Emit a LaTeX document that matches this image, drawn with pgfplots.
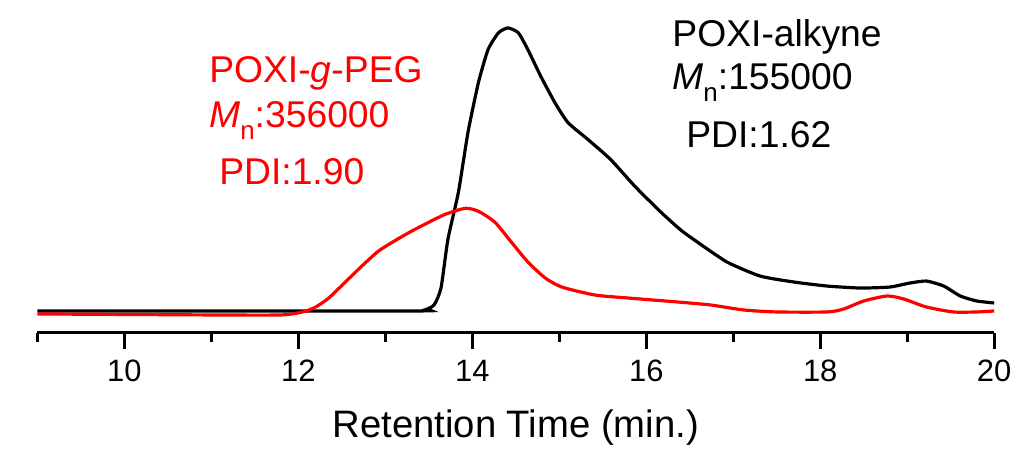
\documentclass[border=0pt]{standalone}
\usepackage{fontspec}
\setmainfont{Liberation Sans}
\usepackage{pgfplots}
\pgfplotsset{compat=1.18}

% chromatogram traces, y in picture units above the x axis
\pgfplotstableread{
x y
9.00 22
13.30 22
13.45 23
13.56 28
13.64 45
13.72 94
13.84 141
13.95 201
14.07 251
14.18 284
14.30 301
14.41 306
14.53 301
14.64 284
14.79 257
14.95 231
15.10 211
15.33 194
15.59 174
15.87 147
16.17 121
16.40 103
16.59 91
16.93 71
17.31 57
17.70 51
18.08 47
18.46 45
18.80 46
19.03 50
19.22 52
19.42 47
19.61 37
19.80 32
20.00 30
}\alkyne

\pgfplotstableread{
x y
9.00 19
11.00 18
11.80 18
12.05 21
12.20 26
12.35 35
12.54 51
12.73 67
12.92 82
13.12 93
13.30 102
13.50 111
13.69 119
13.92 125
14.07 122
14.26 111
14.45 91
14.64 71
14.84 55
15.03 46
15.41 38
15.79 35
16.36 31
16.74 28
17.12 23
17.50 21
18.08 21
18.27 24
18.50 32
18.77 37
18.96 34
19.22 26
19.53 21
19.80 21
20.00 22
}\peg

\newcommand{\Mn}{\textit{M}\raisebox{-0.32em}{\fontsize{13}{14}\selectfont n}}

\begin{document}
\begin{tikzpicture}
\begin{axis}[
  scale only axis,
  width=480pt, height=167pt,
  xmin=9, xmax=20, ymin=0, ymax=334,
  clip=false,
  axis x line*=bottom,
  hide y axis,
  x axis line style={line width=1.5pt},
  xtick={10,12,...,20},
  minor xtick={9,11,...,19},
  xtick align=outside,
  major tick length=8pt,
  minor tick length=4.5pt,
  every tick/.style={line width=1.5pt, black},
  /pgf/number format/assume math mode=true,
  xticklabel style={font=\fontsize{15.5}{18}\selectfont, yshift=-2pt},
  xlabel={Retention Time (min.)},
  xlabel style={font=\fontsize{19.2}{22}\selectfont, yshift=-7pt},
]
\path (axis cs:8.57,-116) rectangle (axis cs:20.23,334);
\addplot[black, line width=1.6pt, smooth, tension=0.35] table {\alkyne};
\addplot[red, line width=1.6pt, smooth, tension=0.4] table {\peg};

\node[anchor=base west, red, font=\fontsize{18.7}{22}\selectfont] at (axis cs:10.895,251) {POXI-\textit{g}-PEG};
\node[anchor=base west, red, font=\fontsize{18.7}{22}\selectfont] at (axis cs:10.895,206) {\Mn:356000};
\node[anchor=base west, red, font=\fontsize{18.7}{22}\selectfont] at (axis cs:11.01,149) {PDI:1.90};

\node[anchor=base west, black, font=\fontsize{18.7}{22}\selectfont] at (axis cs:16.22,287) {POXI-alkyne};
\node[anchor=base west, black, font=\fontsize{18.7}{22}\selectfont] at (axis cs:16.22,244) {\Mn:155000};
\node[anchor=base west, black, font=\fontsize{18.7}{22}\selectfont] at (axis cs:16.38,186) {PDI:1.62};
\end{axis}
\end{tikzpicture}
\end{document}
